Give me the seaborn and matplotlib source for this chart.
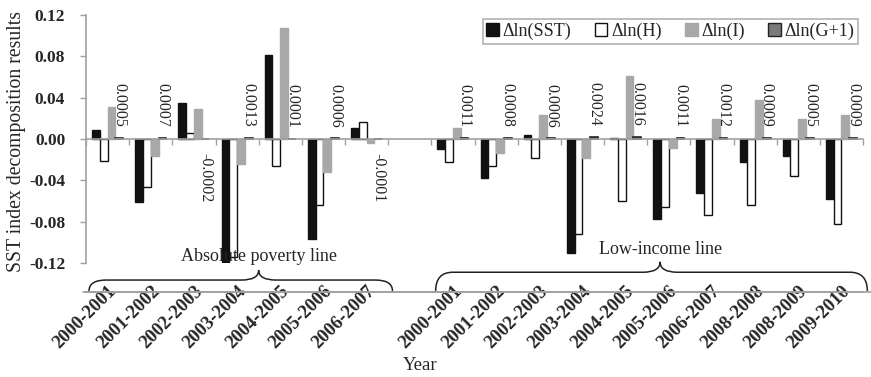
import numpy as np
import pandas as pd
import matplotlib
matplotlib.use("Agg")
import matplotlib.pyplot as plt
from matplotlib.path import Path
from matplotlib.patches import PathPatch, Patch
import seaborn as sns

# ---- data -------------------------------------------------------------
periods_abs = ["2000-2001", "2001-2002", "2002-2003", "2003-2004",
               "2004-2005", "2005-2006", "2006-2007"]
periods_low = ["2000-2001", "2001-2002", "2002-2003", "2003-2004",
               "2004-2005", "2005-2006", "2006-2007", "2008-2008",
               "2008-2009", "2009-2010"]

series_names = ["Δln(SST)", "Δln(H)", "Δln(I)", "Δln(G+1)"]

# absolute poverty line
abs_sst = [0.009, -0.061, 0.035, -0.119, 0.081, -0.097, 0.011]
abs_h = [-0.021, -0.046, 0.006, -0.114, -0.026, -0.064, 0.016]
abs_i = [0.031, -0.016, 0.029, -0.024, 0.107, -0.032, -0.004]
abs_g = [0.0005, 0.0007, -0.0002, 0.0013, 0.0001, 0.0006, -0.0001]

# low-income line
low_sst = [-0.010, -0.038, 0.004, -0.110, 0.001, -0.077, -0.052, -0.022, -0.016, -0.058]
low_h = [-0.022, -0.026, -0.018, -0.092, -0.060, -0.066, -0.074, -0.064, -0.036, -0.082]
low_i = [0.011, -0.014, 0.023, -0.018, 0.061, -0.009, 0.019, 0.038, 0.019, 0.023]
low_g = [0.0011, 0.0008, 0.0006, 0.0024, 0.0016, 0.0011, 0.0012, 0.0009, 0.0005, 0.0009]

group_abs = "Absolute poverty line"
group_low = "Low-income line"

# ---- long table -------------------------------------------------------
keys_abs = ["A " + p for p in periods_abs]
keys_low = ["L " + p for p in periods_low]
gap_key = "gap"
order = keys_abs + [gap_key] + keys_low
tick_text = periods_abs + [""] + periods_low

rows = []
for keys, cols in ((keys_abs, (abs_sst, abs_h, abs_i, abs_g)),
                   (keys_low, (low_sst, low_h, low_i, low_g))):
    for name, vals in zip(series_names, cols):
        for k, v in zip(keys, vals):
            rows.append({"period": k, "series": name, "value": v})
df = pd.DataFrame(rows)

# ---- styling ----------------------------------------------------------
sns.set_theme(style="white")
plt.rcParams["font.family"] = ["Liberation Serif", "DejaVu Serif"]

fills = {"Δln(SST)": "#111111", "Δln(H)": "#ffffff",
         "Δln(I)": "#a8a8a8", "Δln(G+1)": "#7a7a7a"}
edges = {"Δln(SST)": "#111111", "Δln(H)": "#111111",
         "Δln(I)": "#a8a8a8", "Δln(G+1)": "#222222"}
axis_gray = "#a0a0a0"

W, H = 871, 377
fx = lambda px: px / W
fy = lambda py: 1 - py / H

ax_left, ax_right = 86, 863
fig = plt.figure(figsize=(W / 100, H / 100), dpi=100)
ax = fig.add_axes([fx(ax_left), fy(263), fx(ax_right) - fx(ax_left), fy(15) - fy(263)])

sns.barplot(data=df, x="period", y="value", hue="series", order=order,
            hue_order=series_names, width=0.72, dodge=True, legend=False,
            ax=ax, errorbar=None)

for name, cont in zip(series_names, ax.containers):
    for bar in cont:
        bar.set_facecolor(fills[name])
        bar.set_edgecolor(edges[name])
        bar.set_linewidth(1.2 if name == "Δln(G+1)" else 1.0)

ax.set_xlim(-0.5, len(order) - 0.5)
ax.set_ylim(-0.12, 0.12)
yt = np.arange(-0.12, 0.121, 0.04)
ax.set_yticks(yt)
ax.set_yticklabels([f"{t:.2f}" for t in yt], fontsize=12.5, fontweight="bold")
ax.tick_params(axis="y", direction="out", length=4, width=1, color=axis_gray,
               pad=11, left=True)

# zero line acts as the category axis
for side in ("top", "right"):
    ax.spines[side].set_visible(False)
ax.spines["left"].set_color(axis_gray)
ax.spines["left"].set_linewidth(1.2)
ax.spines["bottom"].set_position(("data", 0))
ax.spines["bottom"].set_color(axis_gray)
ax.spines["bottom"].set_linewidth(1.2)
ax.set_xticks(np.arange(-0.5, len(order), 1.0))
ax.set_xticklabels([])
ax.tick_params(axis="x", direction="out", length=4, width=1, color=axis_gray,
               bottom=True)
ax.set_xlabel("")
ax.set_ylabel("SST index decomposition results", fontsize=14.2)
ax_w = fx(ax_right) - fx(ax_left)
ax.yaxis.set_label_coords((fx(26) - fx(ax_left)) / ax_w, 0.488)
ax.patch.set_alpha(0)

# value labels for the Δln(G+1) series
g_cont = ax.containers[series_names.index("Δln(G+1)")]
for bar in g_cont:
    v = bar.get_height()
    if np.isnan(v):
        continue
    cx = bar.get_x() + bar.get_width() / 2
    if v >= 0:
        ax.annotate(f"{v:.4f}", (cx, v), xytext=(0, 8), textcoords="offset points",
                    rotation=-90, ha="center", va="bottom", fontsize=11.5)
    else:
        ax.annotate(f"{v:.4f}", (cx, v), xytext=(0, -10), textcoords="offset points",
                    rotation=-90, ha="center", va="top", fontsize=11.5)

# legend
handles = [Patch(facecolor=fills[n], edgecolor=edges[n] if n != "Δln(I)" else fills[n],
                 linewidth=1.0, label=n) for n in series_names]
leg = ax.legend(handles=handles, ncol=4, loc="upper right",
                bbox_to_anchor=(fx(858), fy(19)), bbox_transform=fig.transFigure,
                fontsize=13, frameon=True, fancybox=False, handlelength=0.7,
                handleheight=0.7, handletextpad=0.2, columnspacing=1.3,
                borderpad=0.2, borderaxespad=0)
leg.get_frame().set_edgecolor(axis_gray)
leg.get_frame().set_linewidth(1.2)

# ---- category label strip with braces ----------------------------------
ax2 = fig.add_axes([fx(ax_left), fy(292), ax_w, fy(240) - fy(292)])
ax2.set_xlim(-0.5, len(order) - 0.5)
ax2.set_ylim(0, 1)
ax2.patch.set_alpha(0)
for side in ("top", "right", "left"):
    ax2.spines[side].set_visible(False)
ax2.spines["bottom"].set_color(axis_gray)
ax2.spines["bottom"].set_linewidth(1.2)
ax2.axhline(0, xmin=-0.004, xmax=1.012, color=axis_gray, lw=1.2, clip_on=False)
ax2.set_yticks([])
ticks = [i for i, t in enumerate(tick_text) if t]
ax2.set_xticks(ticks)
ax2.set_xticklabels([tick_text[i] for i in ticks], rotation=45, ha="right",
                    rotation_mode="anchor", fontsize=13.5, fontweight="bold")
ax2.tick_params(axis="x", length=0, pad=-7)


def brace(axis, x0, x1, xm, yh, yt, r):
    verts = [(x0, 0.02), (x0, yh), (x0 + r, yh), (xm - r, yh), (xm, yh), (xm, yt),
             (xm, yh), (xm + r, yh), (x1 - r, yh), (x1, yh), (x1, 0.02)]
    codes = [Path.MOVETO, Path.CURVE3, Path.CURVE3, Path.LINETO, Path.CURVE3,
             Path.CURVE3, Path.CURVE3, Path.CURVE3, Path.LINETO, Path.CURVE3,
             Path.CURVE3]
    axis.add_patch(PathPatch(Path(verts, codes), facecolor="none",
                             edgecolor="#222222", lw=1.1, clip_on=False))


brace(ax2, -0.43, 6.6, 3.5, 0.23, 0.42, 0.4)
ax2.text(3.5, 0.69, group_abs, ha="center", va="center", fontsize=13)
brace(ax2, 7.6, 17.6, 12.8, 0.38, 0.58, 0.4)
ax2.text(12.8, 0.81, group_low, ha="center", va="center", fontsize=13)

fig.text(fx(420), fy(366), "Year", ha="center", va="center", fontsize=13.5)

fig.savefig("out.png", dpi=100)
